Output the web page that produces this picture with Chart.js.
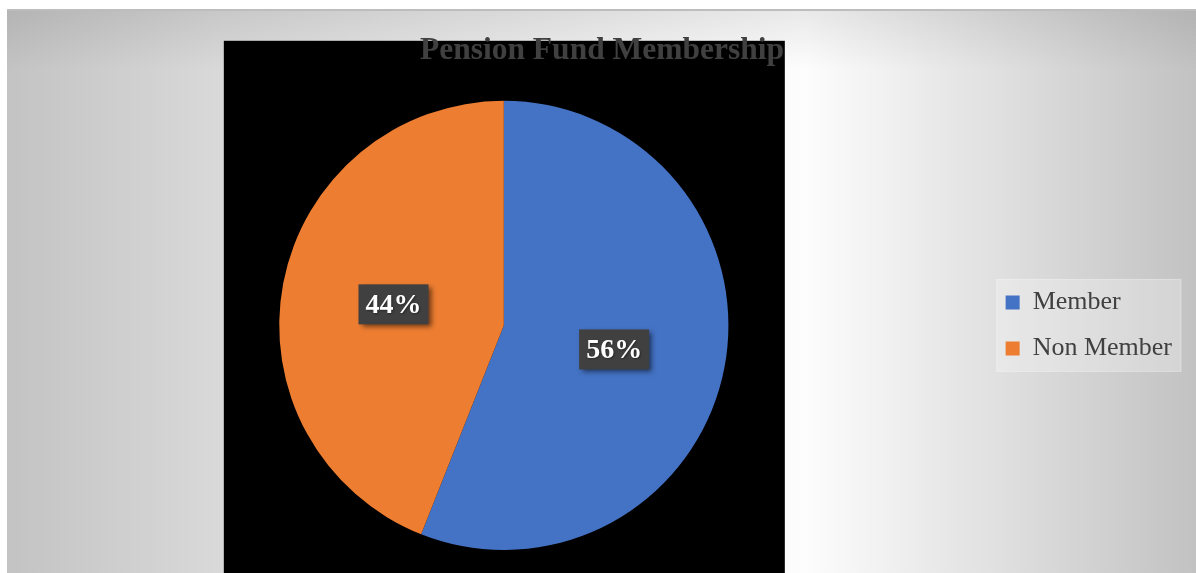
<!DOCTYPE html>
<html lang="en">

<head>
    <meta charset="UTF-8">
    <title>Pension Fund Membership</title>
    <script src="https://cdn.jsdelivr.net/npm/chart.js"></script>
    <style>
        body {
            margin: 0;
            background: #ffffff;
        }
    </style>
</head>

<body>
    <canvas id="pieChart" width="1196" height="573"></canvas>

    <script>
        // Data
        const categories = ['Member', 'Non Member'];
        const shares = [56, 44];
        const sliceColors = ['#4472C4', '#ED7D31'];

        const serif = "'Liberation Serif', 'Times New Roman', serif";

        // Grey gradient page, black plot backdrop and legend panel
        const backdropPlugin = {
            id: 'backdrop',
            beforeDraw(chart) {
                const ctx = chart.ctx;
                const w = chart.width, h = chart.height;
                ctx.save();
                ctx.fillStyle = '#ffffff';
                ctx.fillRect(0, 0, w, h);

                const g = ctx.createLinearGradient(7, 0, w, 0);
                g.addColorStop(0, '#c3c3c3');
                g.addColorStop(0.18, '#d9d9d9');
                g.addColorStop(0.67, '#fdfdfd');
                g.addColorStop(1, '#c2c2c2');
                ctx.fillStyle = g;
                ctx.fillRect(7, 10, w - 7, h - 10);

                const v = ctx.createLinearGradient(0, 10, 0, 70);
                v.addColorStop(0, 'rgba(0,0,0,0.08)');
                v.addColorStop(1, 'rgba(0,0,0,0)');
                ctx.fillStyle = v;
                ctx.fillRect(7, 10, w - 7, 60);

                ctx.fillStyle = '#bdbdbd';
                ctx.fillRect(7, 9, w - 7, 2);

                // black plot backdrop around the pie
                const area = chart.chartArea;
                const cx = (area.left + area.right) / 2;
                ctx.fillStyle = '#000000';
                ctx.fillRect(cx - 280, area.top - 60, 561, h - area.top + 60);

                // legend panel
                const boxes = chart.legend && chart.legend.legendHitBoxes;
                if (boxes && boxes.length) {
                    let l = Infinity, t = Infinity, r = -Infinity, b = -Infinity;
                    boxes.forEach(hb => {
                        l = Math.min(l, hb.left);
                        t = Math.min(t, hb.top);
                        r = Math.max(r, hb.left + hb.width);
                        b = Math.max(b, hb.top + hb.height);
                    });
                    ctx.fillStyle = 'rgba(255,255,255,0.28)';
                    ctx.strokeStyle = 'rgba(255,255,255,0.35)';
                    ctx.fillRect(l - 9, t - 10, r - l + 18, b - t + 20);
                    ctx.strokeRect(l - 9, t - 10, r - l + 18, b - t + 20);
                }
                ctx.restore();
            }
        };

        // Percentage labels in dark boxes, placed half way out along each slice
        const sliceLabelPlugin = {
            id: 'sliceLabels',
            afterDatasetsDraw(chart) {
                const ctx = chart.ctx;
                const meta = chart.getDatasetMeta(0);
                const total = shares.reduce((a, b) => a + b, 0);
                ctx.save();
                meta.data.forEach((arc, i) => {
                    const p = arc.getProps(['x', 'y', 'startAngle', 'endAngle', 'outerRadius'], true);
                    const mid = (p.startAngle + p.endAngle) / 2;
                    const r = p.outerRadius * 0.5;
                    const x = p.x + Math.cos(mid) * r;
                    const y = p.y + Math.sin(mid) * r + (i === 0 ? 3 : 0);
                    const text = Math.round(shares[i] / total * 100) + '%';

                    ctx.shadowColor = 'rgba(0,0,0,0.55)';
                    ctx.shadowBlur = 5;
                    ctx.shadowOffsetX = 3;
                    ctx.shadowOffsetY = 3;
                    ctx.fillStyle = '#404040';
                    ctx.fillRect(x - 35, y - 20, 70, 40);

                    ctx.shadowColor = 'rgba(0,0,0,0.4)';
                    ctx.shadowBlur = 2;
                    ctx.shadowOffsetX = 1;
                    ctx.shadowOffsetY = 1;
                    ctx.fillStyle = '#ffffff';
                    ctx.font = 'bold 28px ' + serif;
                    ctx.textAlign = 'center';
                    ctx.textBaseline = 'middle';
                    ctx.fillText(text, x, y + 1);
                });
                ctx.restore();
            }
        };

        const ctx = document.getElementById('pieChart').getContext('2d');

        new Chart(ctx, {
            type: 'pie',
            data: {
                labels: categories,
                datasets: [{
                    data: shares,
                    backgroundColor: sliceColors,
                    borderWidth: 0
                }]
            },
            options: {
                responsive: false,
                animation: false,
                layout: {
                    padding: { left: 22, right: 14, top: 10, bottom: 23 }
                },
                plugins: {
                    title: {
                        display: true,
                        text: 'Pension Fund Membership',
                        color: '#404040',
                        font: { family: serif, size: 31.5, weight: 'bold', lineHeight: 1.2 },
                        padding: { top: 22, bottom: 31 }
                    },
                    legend: {
                        display: true,
                        position: 'right',
                        fullSize: false,
                        labels: {
                            color: '#404040',
                            font: { family: serif, size: 26 },
                            boxWidth: 14,
                            boxHeight: 14,
                            padding: 20
                        }
                    },
                    tooltip: { enabled: false }
                }
            },
            plugins: [backdropPlugin, sliceLabelPlugin]
        });
    </script>
</body>

</html>
